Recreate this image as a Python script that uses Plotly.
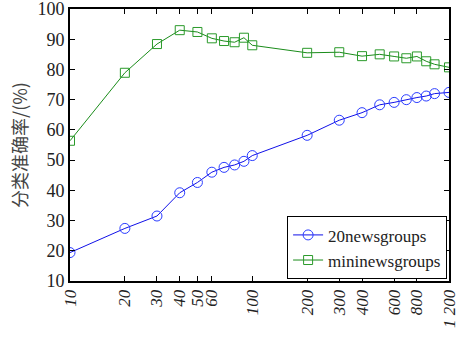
import plotly.graph_objects as go

sizes = [10, 20, 30, 40, 50, 60, 70, 80, 90, 100, 200, 300, 400, 500, 600, 700, 800, 900, 1000, 1200]
acc_20news = [19.4, 27.4, 31.5, 39.2, 42.6, 46.0, 47.6, 48.4, 49.6, 51.5, 58.2, 63.2, 65.7, 68.3, 69.1, 70.0, 70.7, 71.2, 72.0, 72.4]
acc_mininews = [56.4, 78.9, 88.4, 93.0, 92.4, 90.3, 89.4, 89.0, 90.5, 88.0, 85.5, 85.7, 84.4, 85.0, 84.3, 83.7, 84.3, 82.7, 81.7, 80.7]
x_tickvals = [10, 20, 30, 40, 50, 60, 100, 200, 300, 400, 600, 800, 1200]
x_ticktext = ["10", "20", "30", "40", "50", "60", "100", "200", "300", "400", "600", "800", "1 200"]
y_tickvals = [10, 20, 30, 40, 50, 60, 70, 80, 90, 100]

serif = "Liberation Serif, Times New Roman, serif"

fig = go.Figure()
fig.add_trace(go.Scatter(
    x=sizes, y=acc_20news, name="20newsgroups", mode="lines+markers",
    line=dict(color="#1010e8", width=1),
    marker=dict(symbol="circle-open", size=10, color="#2a3cff", line=dict(width=1)),
))
fig.add_trace(go.Scatter(
    x=sizes, y=acc_mininews, name="mininewsgroups", mode="lines+markers",
    line=dict(color="#1a8c1a", width=1),
    marker=dict(symbol="square-open", size=9, color="#2a9a2a", line=dict(width=1)),
))

fig.update_layout(
    width=461, height=337,
    margin=dict(l=70, r=12, t=9, b=56, autoexpand=False),
    paper_bgcolor="white", plot_bgcolor="white",
    font=dict(family=serif, size=16, color="#222"),
    showlegend=True,
    legend=dict(
        x=0.995, y=0.006, xanchor="right", yanchor="bottom",
        bgcolor="white", bordercolor="black", borderwidth=1,
        font=dict(family=serif, size=17, color="#222"),
        tracegroupgap=0, itemwidth=30,
    ),
)
fig.update_xaxes(
    type="log", range=[1, 3.0792], automargin=False, ticklabeloverflow="allow",
    tickvals=x_tickvals, ticktext=x_ticktext, tickangle=-90,
    tickfont=dict(family=serif, size=17, style="italic", color="#222"),
    ticks="inside", ticklen=5, tickcolor="black",
    showline=True, linecolor="black", linewidth=2, mirror="ticks",
    showgrid=False, zeroline=False,
)
fig.update_yaxes(
    range=[10, 100], tickvals=y_tickvals, automargin=False, ticklabeloverflow="allow",
    tickfont=dict(family=serif, size=18, color="#222"),
    ticks="inside", ticklen=5, tickcolor="black",
    showline=True, linecolor="black", linewidth=2, mirror="ticks",
    showgrid=False, zeroline=False,
    title=dict(text="分类准确率/(%)", font=dict(family="Noto Sans CJK SC", size=18, color="#444"), standoff=5),
)

fig.write_html("out.html", config={"displayModeBar": False},
               post_script="document.body.style.margin='0';document.body.style.padding='0';")
